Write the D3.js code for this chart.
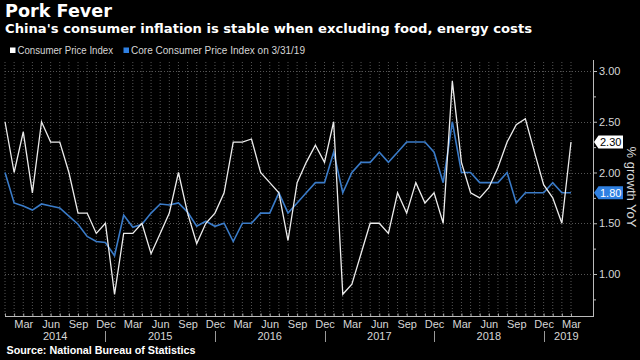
<!DOCTYPE html>
<html>
<head>
<meta charset="utf-8">
<script src="https://cdn.jsdelivr.net/npm/d3@7"></script>
<style>
  html, body { margin: 0; padding: 0; background: #000; }
  svg { display: block; }
</style>
</head>
<body>
<svg id="chart" width="640" height="360"></svg>
<script>
// ---------------- DATA ----------------
const months = [
  "2014-01","2014-02","2014-03","2014-04","2014-05","2014-06","2014-07","2014-08","2014-09","2014-10","2014-11","2014-12",
  "2015-01","2015-02","2015-03","2015-04","2015-05","2015-06","2015-07","2015-08","2015-09","2015-10","2015-11","2015-12",
  "2016-01","2016-02","2016-03","2016-04","2016-05","2016-06","2016-07","2016-08","2016-09","2016-10","2016-11","2016-12",
  "2017-01","2017-02","2017-03","2017-04","2017-05","2017-06","2017-07","2017-08","2017-09","2017-10","2017-11","2017-12",
  "2018-01","2018-02","2018-03","2018-04","2018-05","2018-06","2018-07","2018-08","2018-09","2018-10","2018-11","2018-12",
  "2019-01","2019-02","2019-03"
];
const cpi = [
  2.5, 2.0, 2.4, 1.8, 2.5, 2.3, 2.3, 2.0, 1.6, 1.6, 1.4, 1.5,
  0.8, 1.4, 1.4, 1.5, 1.2, 1.4, 1.6, 2.0, 1.6, 1.3, 1.5, 1.6,
  1.8, 2.3, 2.3, 2.33, 2.0, 1.9, 1.8, 1.33, 1.9, 2.1, 2.27, 2.1,
  2.5, 0.8, 0.9, 1.2, 1.5, 1.5, 1.4, 1.8, 1.6, 1.9, 1.7, 1.8,
  1.5, 2.9, 2.1, 1.8, 1.75, 1.85, 2.05, 2.3, 2.47, 2.53, 2.2, 1.88,
  1.75, 1.5, 2.3
];
const coreCpi = [
  2.0, 1.7, 1.67, 1.63, 1.69, 1.67, 1.65, 1.57, 1.49, 1.37, 1.32, 1.31,
  1.18, 1.58, 1.46, 1.49, 1.6, 1.69, 1.68, 1.7, 1.61, 1.47, 1.52, 1.47,
  1.5, 1.32, 1.5, 1.5, 1.6, 1.6, 1.8, 1.6, 1.7, 1.8, 1.9, 1.9,
  2.2, 1.8, 2.0, 2.1, 2.1, 2.2, 2.1, 2.2, 2.3, 2.3, 2.3, 2.2,
  1.9, 2.5, 2.0, 2.0, 1.9, 1.9, 1.9, 2.0, 1.7, 1.8, 1.8, 1.8,
  1.9, 1.8, 1.8
];
const seriesNames = ["Consumer Price Index", "Core Consumer Price Index on 3/31/19"];
const yTicks = [1.0, 1.5, 2.0, 2.5, 3.0];
const yMinorTicks = [0.75, 1.25, 1.75, 2.25, 2.75];
const monthTickLabels = { "03": "Mar", "06": "Jun", "09": "Sep", "12": "Dec" };
const years = ["2014", "2015", "2016", "2017", "2018", "2019"];
const lastValues = [2.30, 1.80];

// ---------------- LAYOUT ----------------
const svg = d3.select("#chart");
const W = 640, H = 360;
const plot = { left: 5, right: 571, axisX: 593, top: 62, bottom: 316 };
const colWhite = "#ececec";
const colBlue = "#3a7bc8";
const colBlueBright = "#2f80e2";
const gridCol = "#555";
const textCol = "#d6d6d6";

svg.append("rect").attr("width", W).attr("height", H).attr("fill", "#000");

const x = d3.scalePoint().domain(months).range([plot.left, plot.right]).padding(0);
const y = d3.scaleLinear().domain([1, 3]).range([274, 71]);

// Titles
svg.append("text").attr("x", 5).attr("y", 17)
  .attr("font-family", "DejaVu Sans").attr("font-weight", "bold").attr("font-size", 17.5)
  .attr("fill", "#fff").attr("textLength", 107).attr("lengthAdjust", "spacingAndGlyphs")
  .text("Pork Fever");
svg.append("text").attr("x", 5).attr("y", 33)
  .attr("font-family", "DejaVu Sans").attr("font-weight", "bold").attr("font-size", 13)
  .attr("fill", "#fff").attr("textLength", 527).attr("lengthAdjust", "spacingAndGlyphs")
  .text("China's consumer inflation is stable when excluding food, energy costs");

// Legend
const legend = svg.append("g");
legend.append("rect").attr("x", 10).attr("y", 47.5).attr("width", 5.5).attr("height", 5.5).attr("fill", "#fff");
legend.append("text").attr("x", 17.5).attr("y", 54)
  .attr("font-family", "Liberation Sans").attr("font-size", 10).attr("fill", textCol)
  .attr("textLength", 95.5).attr("lengthAdjust", "spacingAndGlyphs")
  .text(seriesNames[0]);
legend.append("rect").attr("x", 123.5).attr("y", 47.5).attr("width", 5.5).attr("height", 5.5).attr("fill", colBlueBright);
legend.append("text").attr("x", 131).attr("y", 54)
  .attr("font-family", "Liberation Sans").attr("font-size", 10).attr("fill", textCol)
  .attr("textLength", 174).attr("lengthAdjust", "spacingAndGlyphs")
  .text(seriesNames[1]);

// Gridlines
const grid = svg.append("g");
grid.selectAll("line.v").data(months).join("line")
  .attr("x1", d => x(d)).attr("x2", d => x(d))
  .attr("y1", plot.top).attr("y2", plot.bottom)
  .attr("stroke", gridCol).attr("stroke-width", 1).attr("stroke-dasharray", "1,2");
grid.selectAll("line.h").data(yTicks).join("line")
  .attr("x1", plot.left).attr("x2", plot.axisX)
  .attr("y1", d => Math.round(y(d)) + 0.5).attr("y2", d => Math.round(y(d)) + 0.5)
  .attr("stroke", gridCol).attr("stroke-width", 1).attr("stroke-dasharray", "1,2");

// Y axis (right)
const yAxisG = svg.append("g").attr("transform", `translate(${plot.axisX},0)`);
yAxisG.call(d3.axisRight(y).tickValues(yTicks).tickFormat(d3.format(".2f")).tickSize(4).tickPadding(2))
  .call(g => g.select(".domain").remove());
yAxisG.selectAll(".tick line").attr("stroke", "#bbb");
yAxisG.selectAll(".tick text").attr("font-family", "Liberation Sans").attr("font-size", 11).attr("fill", textCol);
const yMinorG = svg.append("g").attr("transform", `translate(${plot.axisX},0)`);
yMinorG.call(d3.axisRight(y).tickValues(yMinorTicks).tickFormat("").tickSize(3))
  .call(g => g.select(".domain").remove());
yMinorG.selectAll(".tick line").attr("stroke", "#bbb");
svg.append("line").attr("x1", plot.axisX + 0.5).attr("x2", plot.axisX + 0.5)
  .attr("y1", plot.top - 2).attr("y2", plot.bottom + 0.5).attr("stroke", "#bbb").attr("stroke-width", 1);

// Y axis title
svg.append("text")
  .attr("transform", `translate(627,187) rotate(90)`)
  .attr("text-anchor", "middle")
  .attr("font-family", "Liberation Sans").attr("font-size", 13).attr("fill", textCol)
  .text("% growth YoY");

// X axis
const xAxisG = svg.append("g").attr("transform", `translate(0,${plot.bottom + 0.5})`);
xAxisG.call(d3.axisBottom(x).tickValues(months).tickFormat("").tickSizeInner(-3).tickSizeOuter(0))
  .call(g => g.select(".domain").remove());
xAxisG.selectAll(".tick line").attr("stroke", "#aaa");
const xLabelG = svg.append("g").attr("transform", `translate(0,${plot.bottom + 0.5})`);
xLabelG.call(d3.axisBottom(x).tickValues(months.filter(m => monthTickLabels[m.slice(5)]))
    .tickFormat(m => monthTickLabels[m.slice(5)]).tickSize(0).tickPadding(4))
  .call(g => g.select(".domain").remove());
xLabelG.selectAll(".tick text").attr("font-family", "Liberation Sans").attr("font-size", 11).attr("fill", textCol);
svg.append("line").attr("x1", plot.left).attr("x2", plot.axisX + 1)
  .attr("y1", plot.bottom + 0.5).attr("y2", plot.bottom + 0.5).attr("stroke", "#bbb");

// Year labels and separators
const decMonths = years.map(yr => yr + "-12").filter(m => months.includes(m));
svg.selectAll("line.sep").data(decMonths).join("line")
  .attr("x1", d => Math.round(x(d)) + 0.5).attr("x2", d => Math.round(x(d)) + 0.5)
  .attr("y1", 331).attr("y2", 342).attr("stroke", "#999");
svg.selectAll("text.year").data(years).join("text")
  .attr("x", yr => {
    const start = months.includes((+yr - 1) + "-12") ? x((+yr - 1) + "-12") : plot.left;
    const end = months.includes(yr + "-12") ? x(yr + "-12") : plot.axisX - 4;
    return (start + end) / 2;
  })
  .attr("y", 340).attr("text-anchor", "middle")
  .attr("font-family", "Liberation Sans").attr("font-size", 11).attr("fill", textCol)
  .text(yr => yr);

// Source
svg.append("text").attr("x", 6.5).attr("y", 354)
  .attr("font-family", "Liberation Sans").attr("font-weight", "bold").attr("font-size", 10)
  .attr("fill", "#fff").attr("textLength", 189).attr("lengthAdjust", "spacingAndGlyphs")
  .text("Source: National Bureau of Statistics");

// Lines
const line = d3.line().x((d, i) => x(months[i])).y(d => y(d));
svg.append("path").datum(coreCpi).attr("d", line)
  .attr("fill", "none").attr("stroke", colBlue).attr("stroke-width", 1.6).attr("stroke-linejoin", "miter");
svg.append("path").datum(cpi).attr("d", line)
  .attr("fill", "none").attr("stroke", colWhite).attr("stroke-width", 1.3).attr("stroke-linejoin", "miter");

// Last value labels
const boxes = [
  { v: lastValues[0], fill: "#fff", text: "#000" },
  { v: lastValues[1], fill: colBlueBright, text: "#fff" }
];
boxes.forEach(b => {
  const yv = y(b.v);
  const x0 = plot.axisX + 1, x1 = x0 + 4.5, x2 = 623, h = 6.5;
  svg.append("path")
    .attr("d", `M${x0},${yv} L${x1},${yv - h} L${x2},${yv - h} L${x2},${yv + h} L${x1},${yv + h} Z`)
    .attr("fill", b.fill);
  svg.append("text").attr("x", x1 + 1.5).attr("y", yv + 4)
    .attr("font-family", "Liberation Sans").attr("font-size", 11).attr("fill", b.text)
    .text(d3.format(".2f")(b.v));
});
</script>
</body>
</html>
